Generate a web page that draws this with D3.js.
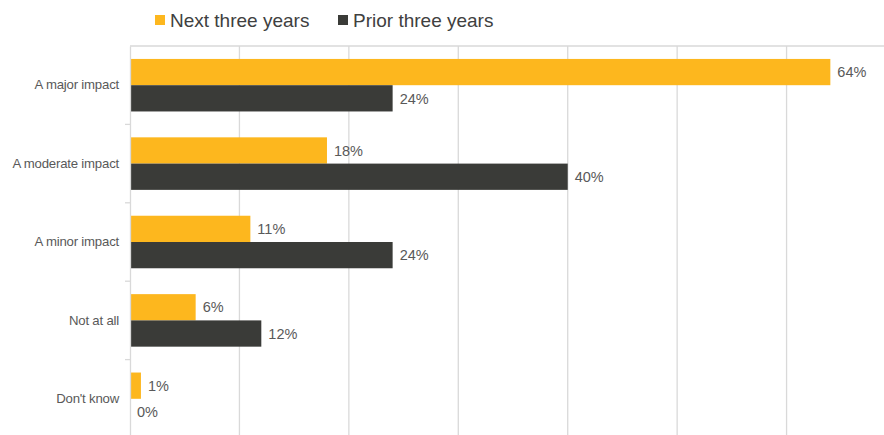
<!DOCTYPE html>
<html>
<head>
<meta charset="utf-8">
<script src="https://cdn.jsdelivr.net/npm/d3@7"></script>
<style>
  html, body { margin: 0; padding: 0; background: #fff; }
  svg { display: block; font-family: "Liberation Sans", Arial, sans-serif; }
</style>
</head>
<body>
<svg id="chart" width="884" height="435"></svg>
<script>
// Survey responses: impact, next vs prior three years (%)
const categories = ["A major impact", "A moderate impact", "A minor impact", "Not at all", "Don't know"];
const seriesNames = ["Next three years", "Prior three years"];
const nextThreeYears = [64, 18, 11, 6, 1];
const priorThreeYears = [24, 40, 24, 12, 0];
const xTicks = [0, 10, 20, 30, 40, 50, 60, 70];

const colors = { "Next three years": "#FDB71E", "Prior three years": "#3A3B38" };
const seriesValues = { "Next three years": nextThreeYears, "Prior three years": priorThreeYears };

const svg = d3.select("#chart");
const W = 884, H = 435;
const plot = { left: 130, top: 46, bottom: 438 };

const x = d3.scaleLinear().domain([0, 70]).range([plot.left, plot.left + 766]);
const y0 = d3.scaleBand().domain(categories).range([plot.top, plot.bottom]).padding(0);
const gap = y0.bandwidth() * 0.165;
const y1 = d3.scaleBand().domain(seriesNames).range([gap, y0.bandwidth() - gap]).padding(0);

// vertical gridlines
svg.append("g")
  .selectAll("line")
  .data(xTicks.filter(t => t > 0))
  .join("line")
  .attr("x1", d => x(d)).attr("x2", d => x(d))
  .attr("y1", plot.top).attr("y2", H)
  .attr("stroke", "#d9d9d9").attr("stroke-width", 1.3);

// top border of plot area
svg.append("line")
  .attr("x1", plot.left).attr("x2", W)
  .attr("y1", plot.top).attr("y2", plot.top)
  .attr("stroke", "#d9d9d9").attr("stroke-width", 1.3);

// bars
const groups = svg.append("g")
  .selectAll("g")
  .data(categories)
  .join("g")
  .attr("transform", d => `translate(0,${y0(d)})`);

groups.selectAll("rect")
  .data((c, i) => seriesNames.map(s => ({ s, v: seriesValues[s][i] })))
  .join("rect")
  .attr("x", x(0))
  .attr("y", d => y1(d.s))
  .attr("width", d => x(d.v) - x(0))
  .attr("height", y1.bandwidth())
  .attr("fill", d => colors[d.s]);

groups.selectAll("text")
  .data((c, i) => seriesNames.map(s => ({ s, v: seriesValues[s][i] })))
  .join("text")
  .attr("x", d => x(d.v) + 7)
  .attr("y", d => y1(d.s) + y1.bandwidth() / 2)
  .attr("dy", "0.36em")
  .attr("font-size", 14.5)
  .attr("fill", "#595959")
  .text(d => d.v + "%");

// category axis
const yAxis = d3.axisLeft(y0).tickSize(0).tickPadding(11);
const ya = svg.append("g")
  .attr("transform", `translate(${plot.left},0)`)
  .call(yAxis);
ya.select(".domain").attr("stroke", "#d9d9d9").attr("stroke-width", 1.3);
ya.selectAll("text")
  .attr("font-size", 13.2)
  .attr("letter-spacing", "-0.2px")
  .attr("fill", "#595959")
  .attr("font-family", "'Liberation Sans', Arial, sans-serif");

// band separators on the category axis
svg.append("g")
  .selectAll("line")
  .data(categories.slice(1))
  .join("line")
  .attr("x1", plot.left - 5).attr("x2", plot.left)
  .attr("y1", d => y0(d)).attr("y2", d => y0(d))
  .attr("stroke", "#d9d9d9").attr("stroke-width", 1.3);

// legend
const legendX = [155, 338];
const legend = svg.append("g")
  .selectAll("g")
  .data(seriesNames)
  .join("g")
  .attr("transform", (d, i) => `translate(${legendX[i]},15)`);
legend.append("rect")
  .attr("width", 10).attr("height", 10)
  .attr("fill", d => colors[d]);
legend.append("text")
  .attr("x", 15).attr("y", 5)
  .attr("dy", "0.36em")
  .attr("font-size", 19)
  .attr("fill", "#404040")
  .text(d => d);
</script>
</body>
</html>
